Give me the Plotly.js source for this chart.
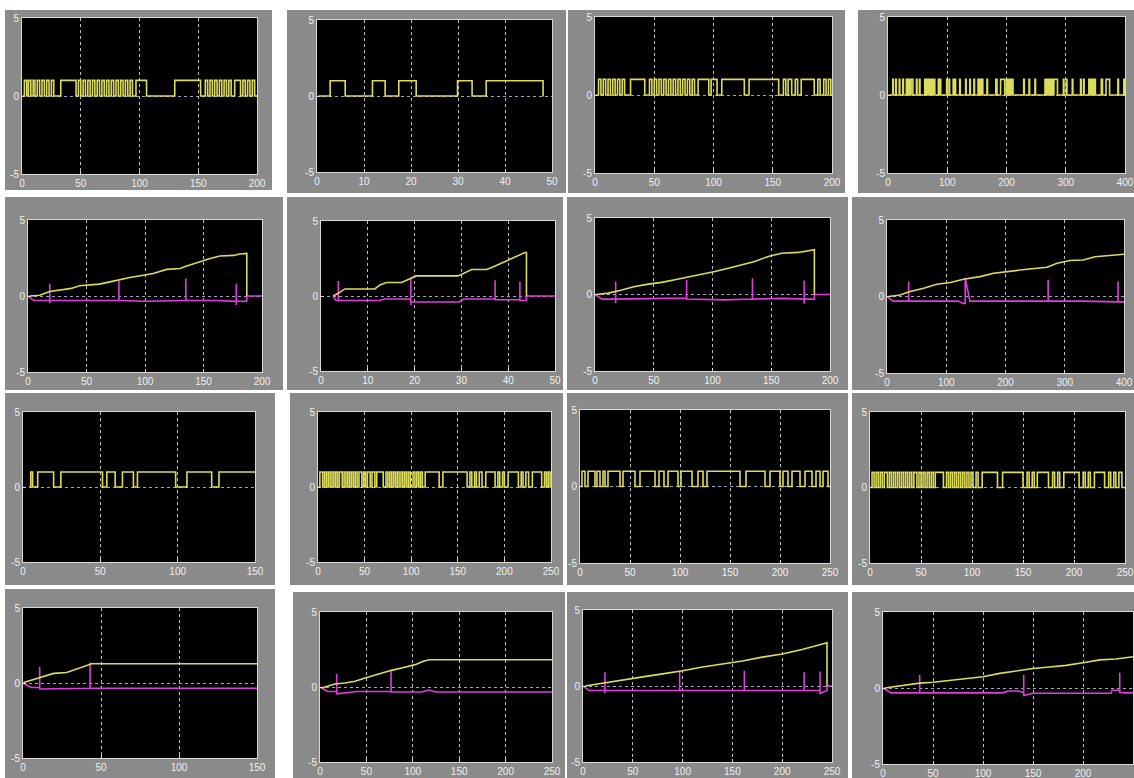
<!DOCTYPE html>
<html><head><meta charset="utf-8">
<script src="https://cdn.plot.ly/plotly-3.0.1.min.js"></script>
<style>html,body{margin:0;padding:0;background:#fff;}#chart{width:1134px;height:778px;}</style>
</head><body><div id="chart"></div>
<script>
// ---------- DATA ----------
// Square-wave panels: pulse intervals [rise, fall] where the signal is at level 1
const p1Pulses = [[2,4],[5.5,7.5],[9.5,11],[13,15],[17,19],[21,23],[25,27],[33,46],[48,50],[52,54],[56,58],[60,62],[64,66],[68,70],[72,74],[76,78],[80,82],[84,86],[88,90],[92,94],[97,106],[130,152],[156,158],[160,162],[164,166],[168,170],[172,174],[176,178],[181,186],[188,190],[192,194],[196,198]];
const p2Pulses = [[2.8,6],[11.8,14.5],[17.4,21.1],[29.9,33],[36,48.1]];
const p3Pulses = [[3,5],[7,9],[11,13],[15,17],[19,21],[23,25],[30,42],[46,48],[50,52],[54,56],[58,60],[62,64],[66,68],[70,72],[74,76],[78,80],[82,84],[87,96],[98,103],[107,126],[130,155],[159,161],[163,166],[169,171],[174,185],[188,190],[193,195],[197,199]];
const p4Pulses = [[8,9],[13,14],[19,20],[25,26],[31,33],[34,35.5],[36.5,38],[39,42],[48,49],[53,54],[62,64],[65,67],[68,70],[71,73],[74,76],[77,79],[85,86],[88,89],[99,100],[103,104],[110,111],[113,114],[121,122],[131,132],[138,139],[145,146],[152,154],[155,157],[158,160],[167,168],[182,184],[190,197],[200,202],[203,205],[206,208],[209,211],[229,230],[238,239],[248,249],[265,267],[268,270],[271,273],[274,276],[277,279],[280,286],[296,297],[301,302],[311,312],[325,326],[330,331],[339,340],[342,344],[345,347],[348,350],[360,362],[368,374],[388,389],[398,399]];
const p9Pulses = [[5,6.2],[9.5,19.8],[24.5,51.4],[54.2,59.6],[64.3,71.4],[74,98.7],[106,122],[126.7,150]];
const p10Pulses = [[2,5],[7,9],[11,13],[15,17],[19,21],[23,26],[28,30],[32,34],[36,38],[40,42],[44,47],[49,51],[53,56],[58,61],[63,70],[73,75],[77,79],[81,83],[85,87],[89,91],[93,95],[97,99],[102,104],[106,108],[110,112],[115,130],[134,160],[163,165],[168,170],[173,176],[180,190],[193,195],[198,200],[204,215],[218,220],[223,226],[230,240],[243,245],[247,249]];
const p11Pulses = [[2,5],[8,15],[17,20],[23,25],[28,40],[43,55],[60,75],[79,84],[88,98],[101,112],[118,123],[127,160],[166,185],[190,200],[203,208],[212,220],[225,232],[236,240],[243,248]];
const p12Pulses = [[2,4],[6,8],[10,12],[14,17],[19,21],[23,25],[27,29],[31,33],[35,37],[39,41],[43,46],[48,50],[52,54],[56,58],[60,62],[64,72],[75,77],[79,81],[83,85],[87,89],[91,93],[95,97],[99,101],[104,106],[110,125],[130,150],[154,156],[159,161],[164,175],[179,181],[184,186],[190,205],[209,211],[214,216],[220,230],[234,236],[239,241],[244,247]];
const squareEnds = {p1:200, p2:48.2, p3:200, p4:400, p9:150, p10:250, p11:250, p12:250};
const squareStarts = {p1:0.5, p2:0.3, p3:1, p4:1, p9:4, p10:0.5, p11:0.5, p12:0.5};

// Ramp panels: yellow trace and magenta trace points
const p5YelX = [1.4,10,18.6,28.6,37,44,50,61,70,78.6,87,98.6,107,118.6,130,135.7,144,155.7,164,175.7,181,187,187];
const p5YelY = [0,0.05,0.3,0.4,0.5,0.67,0.71,0.78,0.93,1.09,1.22,1.37,1.48,1.75,1.81,1.97,2.19,2.47,2.63,2.67,2.76,2.8,0];
const p5MagX = [0,5,18.6,18.6,18.6,18.6,40,77.7,77.7,77.7,100,134.9,134.9,134.9,160,178,178,178,178,187,187,200];
const p5MagY = [0,-0.3,-0.3,0.8,-0.5,-0.3,-0.3,-0.3,1.0,-0.3,-0.35,-0.3,1.15,-0.3,-0.3,-0.35,0.8,-0.6,-0.35,-0.35,0,0];

const p6YelX = [2.6,3.7,5.1,11.5,12.6,14,17.2,19.7,20.4,29.3,30.4,32.2,35.4,36.5,43.6,43.9,43.9];
const p6YelY = [0,0.18,0.47,0.47,0.74,0.9,0.9,1.25,1.34,1.34,1.5,1.77,1.77,1.9,2.9,2.9,0];
const p6MagX = [2.6,3.2,3.7,3.7,3.7,12.5,13.5,19.2,19.2,19.2,19.2,29.5,30.5,37.2,37.2,37.2,42.5,42.5,42.5,43.9,43.9,50];
const p6MagY = [0,-0.3,-0.3,1.0,-0.3,-0.3,-0.2,-0.2,1.2,-0.6,-0.4,-0.4,-0.2,-0.2,1.05,-0.25,-0.25,0.95,-0.3,-0.3,0,0];

const p7YelX = [1.4,11.3,22.7,34,45.4,56.7,68,79.4,90.8,102,113.5,124.8,136,147.5,158.9,173,184.4,186.7,186.7];
const p7YelY = [0,0.09,0.3,0.52,0.68,0.79,0.96,1.13,1.29,1.5,1.72,1.94,2.16,2.49,2.7,2.75,2.93,2.93,0];
const p7MagX = [0,6,17.6,17.6,17.6,17.6,60,78,78,78,110,134,134,134,160,178,178,178,178,186.7,186.7,200];
const p7MagY = [0,-0.3,-0.3,0.85,-0.57,-0.3,-0.25,-0.25,0.96,-0.3,-0.35,-0.3,1.07,-0.3,-0.25,-0.3,0.92,-0.6,-0.3,-0.3,0,0];

const p8YelX = [2.8,22,39,62,84,107,129,157,180,208,236,270,287,309,331,351,382,400];
const p8YelY = [0,0.1,0.33,0.54,0.8,0.91,1.13,1.3,1.52,1.67,1.78,1.91,2.17,2.35,2.39,2.6,2.72,2.76];
const p8MagX = [0,10,36.5,36.5,36.5,120,128,132,132,140,200,260,272,272,272,330,390,390,390,400];
const p8MagY = [0,-0.3,-0.3,0.98,-0.3,-0.3,-0.45,-0.45,1.2,-0.3,-0.3,-0.3,-0.3,1.08,-0.3,-0.3,-0.35,0.98,-0.35,-0.35];

const p13YelX = [0.4,11,19.7,28,36.8,44,150];
const p13YelY = [0.04,0.35,0.64,0.7,1.02,1.28,1.28];
const p13MagX = [0,5,10.7,10.7,10.7,43,43,43,150];
const p13MagY = [0,-0.3,-0.3,1.08,-0.4,-0.35,1.37,-0.35,-0.35];

const p14YelX = [1.8,16,27,37.8,48.6,63,77,88,102.5,111.5,117.6,250];
const p14YelY = [-0.07,0.2,0.27,0.38,0.6,0.87,1.11,1.27,1.49,1.71,1.82,1.82];
const p14MagX = [0,8,18,18,18,40,76.6,76.6,76.6,110,117,125,250];
const p14MagY = [0,-0.3,-0.3,0.87,-0.45,-0.3,-0.3,1.15,-0.33,-0.33,-0.2,-0.33,-0.33];

const p15YelX = [2,20,40,60,80,100,120,140,160,180,200,220,240,245,245];
const p15YelY = [0,0.2,0.4,0.6,0.8,1.0,1.25,1.45,1.65,1.9,2.1,2.4,2.8,2.85,0];
const p15MagX = [0,6,22,22,22,22,60,97,97,97,130,162,162,162,200,222,222,222,238,238,238,245,245,250];
const p15MagY = [0,-0.3,-0.3,0.9,-0.5,-0.3,-0.3,-0.3,1.0,-0.3,-0.3,-0.3,1.0,-0.3,-0.3,-0.3,0.9,-0.3,-0.3,0.95,-0.5,-0.3,0,0];

const p16YelX = [1.7,16.7,36.7,50,66.7,83,100,116.7,133,150,166.7,183,200,216.7,233,250];
const p16YelY = [0,0.15,0.32,0.38,0.49,0.64,0.74,0.96,1.13,1.28,1.38,1.49,1.66,1.85,1.91,2.06];
const p16MagX = [0,8,36.7,36.7,36.7,120,125,135,140.7,140.7,140.7,150,228,229,236.7,236.7,236.7,240,241,250];
const p16MagY = [0,-0.32,-0.32,0.85,-0.32,-0.32,-0.2,-0.2,-0.3,0.85,-0.5,-0.35,-0.35,-0.15,-0.15,1.0,-0.3,-0.3,-0.32,-0.32];

// x-axis ranges and tick steps per panel
const xMax = [200,50,200,400, 200,50,200,400, 150,250,250,250, 150,250,250,250];
const xStep = [50,10,50,100, 50,10,50,100, 50,50,50,50, 50,50,50,50];
const yTicks = [-5,0,5];

// ---------- LAYOUT (pixel boxes) ----------
const W = 1134, H = 778;
const plotBoxes = [
  [22,257,18,174],[317,552,20,172],[595,832,17,173],[888,1125,17,173],
  [28,262,220,372],[321,555,221,371],[595,830,218,371],[887,1124,220,373],
  [23,255,412,562],[318,551,412,562],[580,830,410,563],[870,1125,412,563],
  [23,257,608,758],[320,552,612,762],[583,832,610,762],[883,1133,612,764]
];
const panelBoxes = [
  [5,272,10,190],[287,566,10,193],[568,845,10,193],[858,1134,10,193],
  [5,283,197,390],[287,563,197,390],[567,848,197,390],[852,1134,197,390],
  [5,275,393,585],[290,563,393,585],[567,848,393,585],[852,1134,393,585],
  [5,275,589,778],[293,565,592,778],[567,848,592,778],[852,1134,592,778]
];

const YEL = '#dcdc5c', MAG = '#e03ce0';

function pulseTrace(pulses, start, end) {
  const x = [start], y = [0];
  pulses.forEach(([a, b]) => {
    x.push(a); y.push(1);
    x.push(b); y.push(b >= end ? 1 : 0);
  });
  const last = pulses[pulses.length - 1][1];
  if (last < end) { x.push(end); y.push(0); }
  return {x, y};
}

const squareSets = {1:['p1',p1Pulses],2:['p2',p2Pulses],3:['p3',p3Pulses],4:['p4',p4Pulses],
  9:['p9',p9Pulses],10:['p10',p10Pulses],11:['p11',p11Pulses],12:['p12',p12Pulses]};
const rampSets = {5:[p5YelX,p5YelY,p5MagX,p5MagY],6:[p6YelX,p6YelY,p6MagX,p6MagY],7:[p7YelX,p7YelY,p7MagX,p7MagY],
  8:[p8YelX,p8YelY,p8MagX,p8MagY],13:[p13YelX,p13YelY,p13MagX,p13MagY],14:[p14YelX,p14YelY,p14MagX,p14MagY],
  15:[p15YelX,p15YelY,p15MagX,p15MagY],16:[p16YelX,p16YelY,p16MagX,p16MagY]};

const traces = [];
const layout = {
  width: W, height: H, margin: {l:0,r:0,t:0,b:0},
  paper_bgcolor: '#ffffff', plot_bgcolor: '#000000',
  showlegend: false, shapes: [],
  font: {family: 'Liberation Sans, Arial, sans-serif', size: 10, color: '#eeeeee'}
};

panelBoxes.forEach(([x0,x1,y0,y1]) => {
  layout.shapes.push({type:'rect', xref:'paper', yref:'paper', layer:'below',
    x0:x0/W, x1:x1/W, y0:1-y1/H, y1:1-y0/H, fillcolor:'#8a8a8a', line:{width:0}});
});
plotBoxes.forEach(([x0,x1,y0,y1]) => {
  layout.shapes.push({type:'rect', xref:'paper', yref:'paper', layer:'below',
    x0:x0/W, x1:x1/W, y0:1-y1/H, y1:1-y0/H, fillcolor:'#000000', line:{width:0}});
});

for (let i = 1; i <= 16; i++) {
  const [px0,px1,py0,py1] = plotBoxes[i-1];
  const xa = i === 1 ? 'xaxis' : 'xaxis' + i;
  const ya = i === 1 ? 'yaxis' : 'yaxis' + i;
  const xr = i === 1 ? 'x' : 'x' + i;
  const yr = i === 1 ? 'y' : 'y' + i;
  const tv = [];
  for (let v = 0; v <= xMax[i-1] + 1e-9; v += xStep[i-1]) tv.push(v);
  layout[xa] = {domain:[px0/W, px1/W], anchor: yr, range:[0, xMax[i-1]],
    tickvals: tv, ticktext: tv.map(String), showgrid:true, gridcolor:'rgba(225,225,225,0.85)', griddash:'dot', gridwidth:1,
    zeroline:false, showline:true, mirror:true, linecolor:'#d8d8d8', linewidth:1,
    ticks:'inside', ticklen:3, tickcolor:'#d8d8d8', tickfont:{size:10,color:'#f0f0f0'}, fixedrange:true};
  layout[ya] = {domain:[1-py1/H, 1-py0/H], anchor: xr, range:[-5,5],
    tickvals: yTicks, ticktext: yTicks.map(String), showgrid:true, gridcolor:'rgba(200,200,235,0.8)', griddash:'dot', gridwidth:1,
    zeroline:false, showline:true, mirror:true, linecolor:'#d8d8d8', linewidth:1,
    ticks:'inside', ticklen:3, tickcolor:'#d8d8d8', tickfont:{size:10,color:'#f0f0f0'}, fixedrange:true};

  if (squareSets[i]) {
    const [key, pulses] = squareSets[i];
    const d = pulseTrace(pulses, squareStarts[key], squareEnds[key]);
    traces.push({type:'scatter', mode:'lines', x:d.x, y:d.y, xaxis:xr, yaxis:yr,
      line:{color:YEL, width:1.6, shape:'hv'}, hoverinfo:'skip'});
  } else {
    const [yx, yy, mx, my] = rampSets[i];
    traces.push({type:'scatter', mode:'lines', x:mx, y:my, xaxis:xr, yaxis:yr,
      line:{color:MAG, width:1.6}, hoverinfo:'skip'});
    traces.push({type:'scatter', mode:'lines', x:yx, y:yy, xaxis:xr, yaxis:yr,
      line:{color:YEL, width:1.6}, hoverinfo:'skip'});
  }
}

Plotly.newPlot('chart', traces, layout, {staticPlot:true, displayModeBar:false});
</script>
</body></html>
